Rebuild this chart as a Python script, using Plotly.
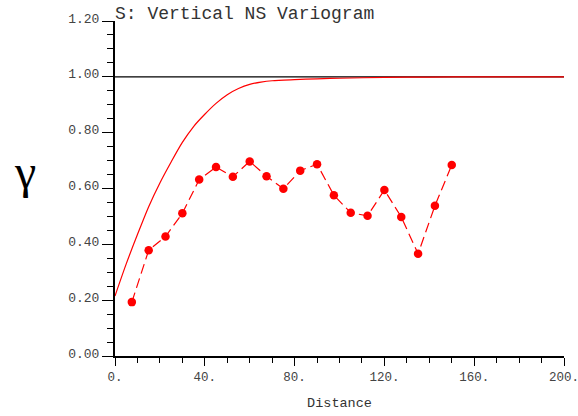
import plotly.graph_objects as go

# experimental variogram points
lag = [7.5, 15, 22.5, 30, 37.5, 45, 52.5, 60, 67.5, 75, 82.5, 90, 97.5, 105,
       112.5, 120, 127.5, 135, 142.5, 150]
gamma = [0.193, 0.379, 0.428, 0.511, 0.632, 0.677, 0.642, 0.697, 0.644, 0.599,
         0.664, 0.687, 0.576, 0.513, 0.502, 0.595, 0.498, 0.366, 0.538, 0.684]

# model curve
model_x = [0, 5, 10, 15, 20, 25, 30, 35, 40, 45, 50, 55, 60, 65, 70, 80, 90,
           100, 120, 140, 160, 200]
model_y = [0.215, 0.33, 0.435, 0.535, 0.62, 0.695, 0.765, 0.822, 0.866, 0.905,
           0.936, 0.958, 0.973, 0.981, 0.986, 0.99, 0.993, 0.995, 0.998, 0.999,
           1.0, 1.0]

# sill
sill_x = [0, 200]
sill_y = [1.0, 1.0]

x_ticks = [0, 40, 80, 120, 160, 200]
x_ticktext = ["0.", "40.", "80.", "120.", "160.", "200."]
y_ticks = [0.0, 0.2, 0.4, 0.6, 0.8, 1.0, 1.2]
y_ticktext = ["0.00", "0.20", "0.40", "0.60", "0.80", "1.00", "1.20"]

mono = "Liberation Mono, Courier New, monospace"

fig = go.Figure()
fig.add_trace(go.Scatter(x=sill_x, y=sill_y, mode="lines",
                         line=dict(color="black", width=1.2), hoverinfo="skip"))
fig.add_trace(go.Scatter(x=model_x, y=model_y, mode="lines",
                         line=dict(color="#ff0000", width=1.2, shape="spline", smoothing=0.8)))
fig.add_trace(go.Scatter(x=lag, y=gamma, mode="lines+markers",
                         line=dict(color="#ff0000", width=1.2, dash="10px,5px"),
                         marker=dict(color="#ff0000", size=8.5, line=dict(width=0))))

fig.update_layout(
    width=578, height=416, autosize=False,
    margin=dict(l=115, r=14, t=21, b=60, autoexpand=False),
    paper_bgcolor="white", plot_bgcolor="white",
    showlegend=False,
    font=dict(family=mono, size=13, color="#444"),
    xaxis=dict(range=[0, 200], tickvals=x_ticks, ticktext=x_ticktext,
               ticks="outside", ticklen=8, tickwidth=1.2, tickcolor="black",
               showline=True, linecolor="black", linewidth=2, automargin=False,
               showgrid=False, zeroline=False, ticklabeloverflow="allow",
               minor=dict(dtick=10, ticks="outside", ticklen=5, tickwidth=1.2,
                          tickcolor="black", showgrid=False),
               tickfont=dict(family=mono, size=12.5, color="#444"),
               title=dict(text="Distance", font=dict(family=mono, size=13.5, color="#333"),
                          standoff=14)),
    yaxis=dict(range=[0, 1.2], tickvals=y_ticks, ticktext=y_ticktext,
               ticks="outside", ticklen=11, tickwidth=1.2, tickcolor="black",
               showline=True, linecolor="black", linewidth=2, automargin=False,
               showgrid=False, zeroline=False, ticklabelshift=-3,
               minor=dict(dtick=0.05, ticks="outside", ticklen=6, tickwidth=1.2,
                          tickcolor="black", showgrid=False),
               tickfont=dict(family=mono, size=13, color="#444")),
)

fig.add_annotation(text="S: Vertical NS Variogram", xref="paper", yref="paper",
                   x=-0.004, y=1.02, xanchor="left", yanchor="middle", showarrow=False,
                   font=dict(family=mono, size=18, color="#333"))
fig.add_annotation(text="γ", xref="paper", yref="paper",
                   x=-0.2, y=0.55, xanchor="center", yanchor="middle", showarrow=False,
                   font=dict(family="Liberation Serif, DejaVu Serif, serif", size=48, color="black"))

fig.write_html("out.html", config={"displayModeBar": False},
               post_script="document.body.style.margin='0';document.body.style.padding='0';")
